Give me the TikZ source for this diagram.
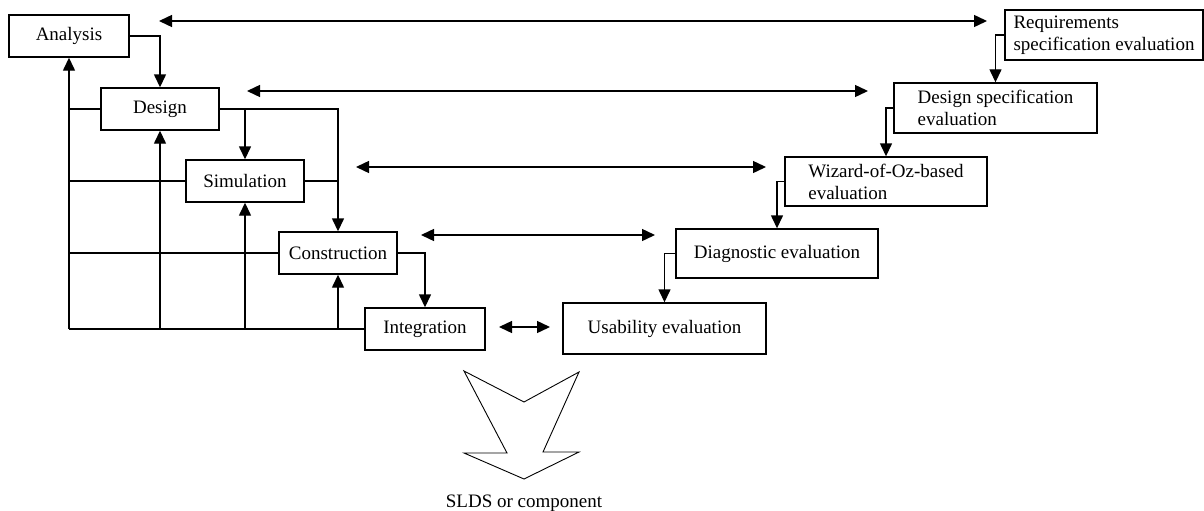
\documentclass[tikz,border=0pt]{standalone}
\usepackage{fontspec}
\setmainfont{Liberation Serif}
\usetikzlibrary{arrows.meta}
\begin{document}
\begin{tikzpicture}[x=1pt,y=-1pt,line width=1.4pt,
  lbl/.style={font=\fontsize{19}{22}\selectfont},
  box/.style={lbl,draw,fill=white,inner sep=0pt},
  ml/.style={box,align=left},
  arr/.style={-{Triangle[length=13pt,width=12pt]}},
  dbl/.style={{Triangle[length=13pt,width=12pt]}-{Triangle[length=13pt,width=12pt]}}]
\useasboundingbox (0,0) rectangle (1204,511);
% left process boxes
\node[box,minimum width=120pt,minimum height=42pt] (analysis) at (69,36) {Analysis};
\node[box,minimum width=118pt,minimum height=42pt] (design) at (160,109) {Design};
\node[box,minimum width=118pt,minimum height=42pt] (simulation) at (245,181) {Simulation};
\node[box,minimum width=118pt,minimum height=42pt] (construction) at (338,253) {Construction};
\node[box,minimum width=120pt,minimum height=42pt] (integration) at (425,329) {Integration};
% right evaluation boxes
\node[ml,minimum width=198pt,minimum height=50pt] (req) at (1104,35) {Requirements\\specification evaluation};
\node[ml,minimum width=203pt,minimum height=50pt] (designspec) at (995.5,108) {Design specification\\evaluation};
\node[ml,minimum width=202pt,minimum height=49pt] (wizard) at (886,181.5) {Wizard-of-Oz-based\\evaluation};
\node[box,minimum width=202pt,minimum height=49pt] (diagnostic) at (777,253.5) {Diagnostic evaluation};
\node[box,minimum width=203pt,minimum height=51pt] (usability) at (664.5,328.5) {Usability evaluation};
% downward flow, left
\draw[arr] (analysis.east) -| (design.north);
\draw[arr] (design.east) -| (construction.north);
\draw[arr] (design.east -| simulation.north) -- (simulation.north);
\draw (simulation.east) -- (simulation.east -| construction.north);
\draw[arr] (construction.east) -| (integration.north);
% feedback lines
\coordinate (bl) at (analysis.south |- integration.west);
\draw (integration.west) -- (bl);
\draw[arr] (bl) -- (analysis.south);
\draw (design.west) -- (design.west -| bl);
\draw (simulation.west) -- (simulation.west -| bl);
\draw (construction.west) -- (construction.west -| bl);
\draw[arr] (design.south |- bl) -- (design.south);
\draw[arr] (simulation.south |- bl) -- (simulation.south);
\draw[arr] (construction.south |- bl) -- (construction.south);
% downward flow, right
\draw[arr] (req.west) -| (designspec.north);
\draw[arr] (designspec.west) -| (wizard.north);
\draw[arr] (wizard.west) -| (diagnostic.north);
\draw[arr] (diagnostic.west) -| (usability.north);
% correspondence arrows
\coordinate (a1) at (159,21);  \coordinate (b1) at (987,21);
\coordinate (a2) at (247,91);  \coordinate (b2) at (868,91);
\coordinate (a3) at (356,167); \coordinate (b3) at (766,167);
\coordinate (a4) at (421,235); \coordinate (b4) at (655,235);
\coordinate (a5) at (499,327); \coordinate (b5) at (550,327);
\draw[dbl] (a1) -- (b1);
\draw[dbl] (a2) -- (b2);
\draw[dbl] (a3) -- (b3);
\draw[dbl] (a4) -- (b4);
\draw[dbl] (a5) -- (b5);
% big output arrow
\draw[line width=0.9pt,line join=miter] (464,371) -- (524,402) -- (579,372) -- (543,452) -- (579,452) -- (524,479) -- (464,453) -- (507,453) -- cycle;
\node[lbl,anchor=base,inner sep=0pt] (slds) at (524,507) {SLDS or component};
\end{tikzpicture}
\end{document}
